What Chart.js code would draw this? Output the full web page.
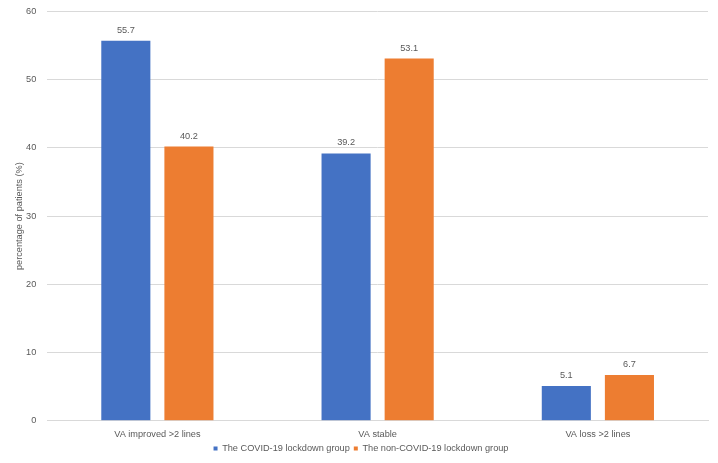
<!DOCTYPE html>
<html>
<head>
<meta charset="utf-8">
<script src="https://cdn.jsdelivr.net/npm/chart.js@4.4.1/dist/chart.umd.min.js"></script>
<style>
  html, body { margin: 0; padding: 0; background: #fff; overflow: hidden; }
  #wrap { width: 718px; height: 468px; margin-top: -5px; }
</style>
</head>
<body>
<div id="wrap"><canvas id="myChart"></canvas></div>
<script>
const categories = ["VA improved >2 lines", "VA stable", "VA loss >2 lines"];
const lockdown = [55.7, 39.2, 5.1];
const nonLockdown = [40.2, 53.1, 6.7];
const yTicks = [0, 10, 20, 30, 40, 50, 60];

const textColor = "#595959";
const fontFamily = "'Liberation Sans', Arial, sans-serif";
const fontSize = 9.2;

// draws the value above each bar
const barLabels = {
  id: "barLabels",
  afterDatasetsDraw(chart) {
    const ctx = chart.ctx;
    ctx.save();
    ctx.fillStyle = textColor;
    ctx.font = fontSize + "px " + fontFamily;
    ctx.textAlign = "center";
    ctx.textBaseline = "bottom";
    chart.data.datasets.forEach((ds, i) => {
      chart.getDatasetMeta(i).data.forEach((bar, j) => {
        ctx.fillText(ds.data[j].toFixed(1), bar.x, bar.y - 6);
      });
    });
    ctx.restore();
  }
};

const config = {
  type: "bar",
  data: {
    labels: categories,
    datasets: [
      {
        label: "The COVID-19 lockdown group",
        data: lockdown,
        backgroundColor: "#4472C4",
        categoryPercentage: 0.573,
        barPercentage: 0.778,
      },
      {
        label: "The non-COVID-19 lockdown group",
        data: nonLockdown,
        backgroundColor: "#ED7D31",
        categoryPercentage: 0.573,
        barPercentage: 0.778,
      },
    ],
  },
  options: {
    responsive: true,
    maintainAspectRatio: false,
    animation: false,
    layout: { padding: { top: 0, right: 10, left: 14, bottom: 0 } },
    scales: {
      x: {
        grid: { display: false },
        border: { color: "#d9d9d9" },
        ticks: { color: textColor, font: { size: fontSize, family: fontFamily }, padding: 0 },
      },
      y: {
        min: 0,
        max: 60,
        afterBuildTicks(scale) {
          scale.ticks = yTicks.map(v => ({ value: v }));
        },
        grid: { color: "#d9d9d9", drawTicks: false },
        border: { display: false },
        ticks: { color: textColor, font: { size: fontSize, family: fontFamily }, padding: 11 },
        title: {
          display: true,
          text: "percentage of patients (%)",
          color: textColor,
          font: { size: fontSize, family: fontFamily },
          padding: { top: 0, bottom: -10 },
        },
      },
    },
    plugins: {
      legend: {
        position: "bottom",
        labels: {
          color: textColor,
          font: { size: fontSize, family: fontFamily },
          boxWidth: 4,
          boxHeight: 4,
          padding: 4,
        },
      },
      tooltip: { enabled: false },
    },
  },
  plugins: [barLabels],
};

new Chart(document.getElementById("myChart").getContext("2d"), config);
</script>
</body>
</html>
